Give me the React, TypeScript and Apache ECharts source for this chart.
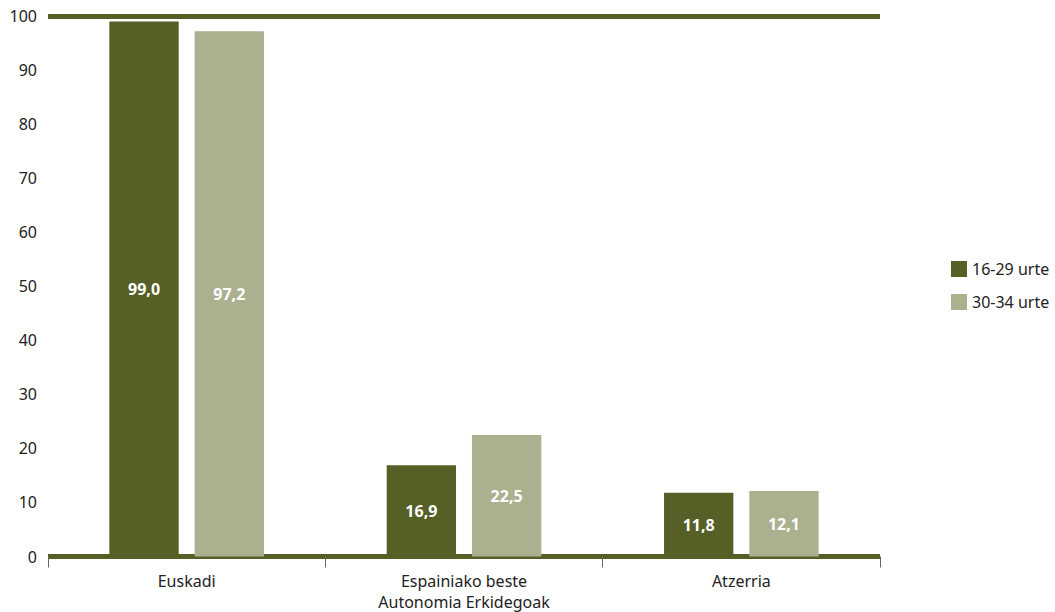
import React, { useEffect, useRef } from "react";
import * as echarts from "echarts";

const categories = ["Euskadi", "Espainiako beste\nAutonomia Erkidegoak", "Atzerria"];
const seriesNames = ["16-29 urte", "30-34 urte"];
const young = [99.0, 16.9, 11.8];
const older = [97.2, 22.5, 12.1];
const colors = ["#566026", "#abb08f"];

export default function App() {
  const ref = useRef<HTMLDivElement>(null);
  useEffect(() => {
    if (!ref.current) return;
    const chart = echarts.init(ref.current, null, { renderer: "svg" });
    const font = "'Noto Sans', sans-serif";
    const labelCfg = {
      show: true,
      position: "inside",
      color: "#ffffff",
      fontWeight: "bold",
      fontSize: 16,
      fontFamily: font,
      formatter: (p: any) => p.value.toFixed(1).replace(".", ","),
    };
    chart.setOption({
      animation: false,
      textStyle: { fontFamily: font },
      grid: {
        left: 48,
        right: 175,
        top: 16,
        bottom: 55.5,
        containLabel: false,
        outerBoundsMode: "none",
      },
      legend: {
        orient: "vertical",
        left: 946,
        top: 256,
        itemWidth: 16,
        itemHeight: 16,
        itemGap: 17,
        textStyle: { fontSize: 16, color: "#222", fontFamily: font },
        data: seriesNames,
        icon: "rect",
      },
      xAxis: [
        {
          type: "category",
          data: categories,
          axisLine: { show: true, lineStyle: { color: colors[0], width: 5, cap: "butt" } },
          axisTick: { show: true, length: 11, lineStyle: { color: "#666", width: 1 } },
          axisLabel: { fontSize: 16, color: "#222", margin: 14, lineHeight: 21, fontFamily: font },
        },
        {
          type: "category",
          position: "top",
          data: categories,
          axisLine: { show: true, lineStyle: { color: colors[0], width: 5, cap: "butt" } },
          axisTick: { show: false },
          axisLabel: { show: false },
        },
      ],
      yAxis: {
        type: "value",
        min: 0,
        max: 100,
        interval: 10,
        axisLine: { show: false },
        axisTick: { show: false },
        splitLine: { show: false },
        axisLabel: { fontSize: 16, color: "#222", margin: 11, fontFamily: font },
      },
      series: [
        {
          name: seriesNames[0],
          type: "bar",
          data: young,
          barWidth: "25%",
          barGap: "23%",
          itemStyle: { color: colors[0] },
          label: labelCfg,
        },
        {
          name: seriesNames[1],
          type: "bar",
          data: older,
          barWidth: "25%",
          barGap: "23%",
          itemStyle: { color: colors[1] },
          label: labelCfg,
        },
      ],
    });
    return () => chart.dispose();
  }, []);
  return <div ref={ref} style={{ width: 1055, height: 612, position: "absolute", left: 0, top: 0 }} />;
}
